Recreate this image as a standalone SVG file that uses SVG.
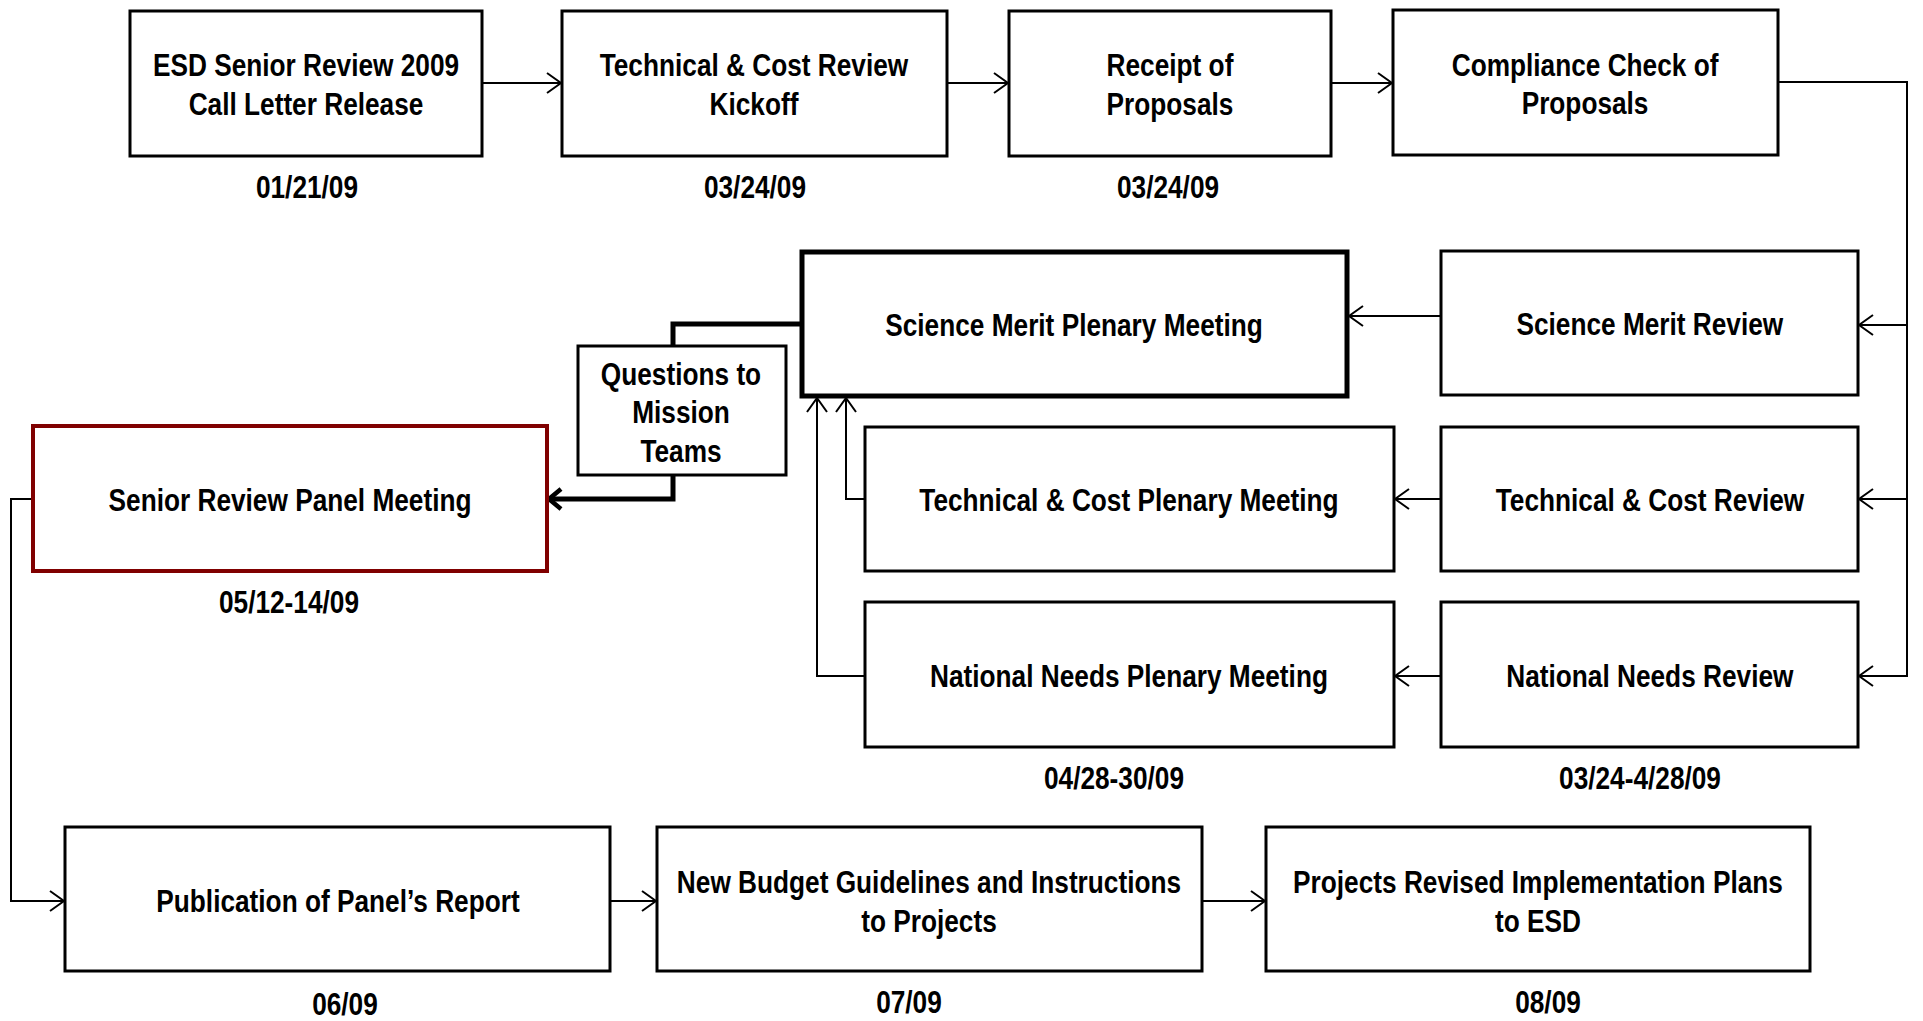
<svg xmlns="http://www.w3.org/2000/svg" width="1923" height="1021" viewBox="0 0 1923 1021">
<style>
.box{fill:#fff;stroke:#000;stroke-width:3}
.thick{stroke-width:5}
.red{stroke:#800000;stroke-width:4}
text{font-family:"Liberation Sans",Arial,sans-serif;font-weight:bold;font-size:32px;fill:#000;text-anchor:middle}
.c{fill:none;stroke:#000;stroke-width:2}
.ct{fill:none;stroke:#000;stroke-width:5}
</style>
<defs>
<marker id="a" markerWidth="16" markerHeight="24" refX="15" refY="12" orient="auto" markerUnits="userSpaceOnUse"><path d="M1,2 L15,12 L1,22" fill="none" stroke="#000" stroke-width="2"/></marker>
<marker id="at" markerWidth="18" markerHeight="26" refX="15" refY="13" orient="auto" markerUnits="userSpaceOnUse"><path d="M3,3 L15,13 L3,23" fill="none" stroke="#000" stroke-width="4.5"/></marker>
</defs>
<g id="connectors">
<path class="c" d="M482,83 H561" marker-end="url(#a)"/>
<path class="c" d="M947,83 H1008" marker-end="url(#a)"/>
<path class="c" d="M1331,83 H1392" marker-end="url(#a)"/>
<path class="c" d="M1778,82 H1907 V676 H1859" marker-end="url(#a)"/>
<path class="c" d="M1907,325 H1859" marker-end="url(#a)"/>
<path class="c" d="M1907,499 H1859" marker-end="url(#a)"/>
<path class="c" d="M1441,316 H1349" marker-end="url(#a)"/>
<path class="c" d="M1441,499 H1395" marker-end="url(#a)"/>
<path class="c" d="M1441,676 H1395" marker-end="url(#a)"/>
<path class="c" d="M865,499 H846 V398" marker-end="url(#a)"/>
<path class="c" d="M865,676 H817 V398" marker-end="url(#a)"/>
<path class="ct" d="M802,324 H673 V346"/>
<path class="ct" d="M673,475 V499 H549" marker-end="url(#at)"/>
<path class="c" d="M33,499 H11 V901 H64" marker-end="url(#a)"/>
<path class="c" d="M610,901 H656" marker-end="url(#a)"/>
<path class="c" d="M1202,901 H1265" marker-end="url(#a)"/>
</g>
<g id="n1"><rect class="box" x="130" y="11" width="352" height="145"/><g transform="scale(0.82 1)"><text x="373.2" y="76">ESD Senior Review 2009</text><text x="373.2" y="115">Call Letter Release</text><text x="374.4" y="198">01/21/09</text></g></g>
<g id="n2"><rect class="box" x="562" y="11" width="385" height="145"/><g transform="scale(0.82 1)"><text x="919.5" y="76">Technical &amp; Cost Review</text><text x="919.5" y="115">Kickoff</text><text x="920.7" y="198">03/24/09</text></g></g>
<g id="n3"><rect class="box" x="1009" y="11" width="322" height="145"/><g transform="scale(0.82 1)"><text x="1426.8" y="76">Receipt of</text><text x="1426.8" y="115">Proposals</text><text x="1424.4" y="198">03/24/09</text></g></g>
<g id="n4"><rect class="box" x="1393" y="10" width="385" height="145"/><g transform="scale(0.82 1)"><text x="1933" y="76">Compliance Check of</text><text x="1933" y="114">Proposals</text></g></g>
<g id="n5"><rect class="box thick" x="802" y="252" width="545" height="144"/><g transform="scale(0.82 1)"><text x="1309.8" y="336">Science Merit Plenary Meeting</text></g></g>
<g id="n6"><rect class="box" x="1441" y="251" width="417" height="144"/><g transform="scale(0.82 1)"><text x="2012" y="335">Science Merit Review</text></g></g>
<g id="n7"><rect class="box" x="578" y="346" width="208" height="129"/><g transform="scale(0.82 1)"><text x="830.5" y="385">Questions to</text><text x="830.5" y="423">Mission</text><text x="830.5" y="462">Teams</text></g></g>
<g id="n8"><rect class="box red" x="33" y="426" width="514" height="145"/><g transform="scale(0.82 1)"><text x="353.7" y="511">Senior Review Panel Meeting</text><text x="352.4" y="613">05/12-14/09</text></g></g>
<g id="n9"><rect class="box" x="865" y="427" width="529" height="144"/><g transform="scale(0.82 1)"><text x="1376.8" y="511">Technical &amp; Cost Plenary Meeting</text></g></g>
<g id="n10"><rect class="box" x="1441" y="427" width="417" height="144"/><g transform="scale(0.82 1)"><text x="2012.2" y="511">Technical &amp; Cost Review</text></g></g>
<g id="n11"><rect class="box" x="865" y="602" width="529" height="145"/><g transform="scale(0.82 1)"><text x="1376.8" y="687">National Needs Plenary Meeting</text><text x="1358.5" y="789">04/28-30/09</text></g></g>
<g id="n12"><rect class="box" x="1441" y="602" width="417" height="145"/><g transform="scale(0.82 1)"><text x="2012" y="687">National Needs Review</text><text x="2000" y="789">03/24-4/28/09</text></g></g>
<g id="n13"><rect class="box" x="65" y="827" width="545" height="144"/><g transform="scale(0.82 1)"><text x="412.2" y="912">Publication of Panel’s Report</text><text x="420.7" y="1015">06/09</text></g></g>
<g id="n14"><rect class="box" x="657" y="827" width="545" height="144"/><g transform="scale(0.82 1)"><text x="1132.9" y="893">New Budget Guidelines and Instructions</text><text x="1132.9" y="932">to Projects</text><text x="1108.5" y="1013">07/09</text></g></g>
<g id="n15"><rect class="box" x="1266" y="827" width="544" height="144"/><g transform="scale(0.82 1)"><text x="1875.6" y="893">Projects Revised Implementation Plans</text><text x="1875.6" y="932">to ESD</text><text x="1887.8" y="1013">08/09</text></g></g>
</svg>
